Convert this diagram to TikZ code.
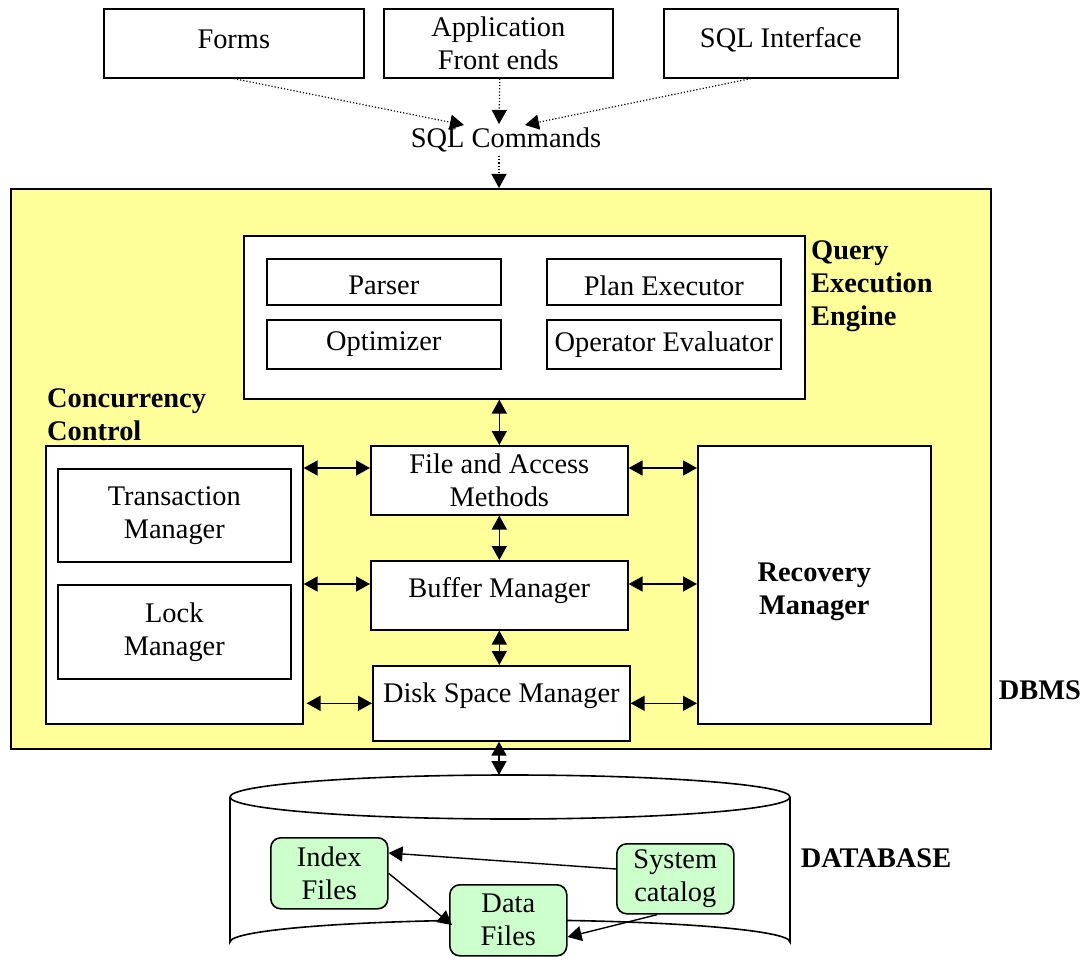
\documentclass[tikz,border=0pt]{standalone}
\usepackage{fontspec}
\setmainfont{Liberation Serif}
\usetikzlibrary{arrows.meta}
\definecolor{dbmsyellow}{HTML}{FFFF99}
\definecolor{filegreen}{HTML}{CCFFCC}
\begin{document}
\begin{tikzpicture}[x=1pt,y=-1pt,
  font=\fontsize{28.4}{33}\selectfont,
  box/.style={draw, line width=1.6pt, fill=white, align=center, inner sep=0pt, anchor=north west},
  boldlbl/.style={font=\fontsize{28.4}{33}\selectfont\bfseries, inner sep=0pt},
  dblarrow/.style={{Triangle[length=14pt,width=15pt]}-{Triangle[length=14pt,width=15pt]}, line width=1.6pt},
  dotarrow/.style={-{Triangle[length=14pt,width=15pt]}, dotted, line width=1.2pt},
  onearrow/.style={-{Triangle[length=14pt,width=15pt]}, line width=1.4pt},
  greenbox/.style={draw, line width=1.6pt, fill=filegreen, rounded corners=10pt, align=center, inner sep=0pt, anchor=north west}]
\useasboundingbox (0,0) rectangle (1088,960);
\fill[white] (0,0) rectangle (1088,960);

% top boxes
\node[box, minimum width=260pt, minimum height=69pt,
  label={[yshift=4pt]center:Forms}] (forms) at (103,8) {};
\node[box, minimum width=229pt, minimum height=69pt] (app) at (383,8) {Application\\Front ends};
\node[box, minimum width=234pt, minimum height=69pt,
  label={[yshift=3pt]center:SQL Interface}] (sqli) at (663,8) {};
\node[inner sep=0pt] (sqlc) at (506,140) {SQL Commands};
\coordinate (inL) at (464,125);
\coordinate (inM) at (499,124);
\coordinate (inR) at (525,125);

% DBMS frame
\node[draw, line width=1.6pt, fill=dbmsyellow, minimum width=980pt, minimum height=560pt, anchor=north west, inner sep=0pt] (dbms) at (10,188) {};
\node[boldlbl] (dbmslbl) at (1040,690) {DBMS};

\draw[dotarrow] (forms.south) -- (inL);
\draw[dotarrow] ([xshift=1.5pt]app.south) -- (inM);
\draw[dotarrow] ([xshift=-30pt]sqli.south) -- (inR);
\draw[dotarrow] (499,156) -- (dbms.north -| 499,0);

% Query execution engine
\node[box, minimum width=561pt, minimum height=163pt] (qee) at (243,235) {};
\node[box, minimum width=234pt, minimum height=46pt,
  label={[yshift=-4pt]center:Parser}] (parser) at (266,258) {};
\node[box, minimum width=234pt, minimum height=46pt,
  label={[yshift=-4pt]center:Plan Executor}] (planex) at (546,258) {};
\node[box, minimum width=234pt, minimum height=49pt] (optim) at (266,319) {Optimizer};
\node[box, minimum width=234pt, minimum height=49pt] (opeval) at (546,319) {Operator Evaluator};
\node[boldlbl, align=left, anchor=west] (qeelbl) at (811,286) {Query\\Execution\\Engine};

% Concurrency control
\node[boldlbl, align=left, anchor=west] (cclbl) at (47,415) {Concurrency\\Control};
\node[box, minimum width=257pt, minimum height=278pt] (conc) at (45,445) {};
\node[box, minimum width=233pt, minimum height=93pt] (trans) at (57,468) {Transaction\\Manager};
\node[box, minimum width=233pt, minimum height=94pt] (lock) at (57,584) {Lock\\Manager};

% central stack
\node[box, minimum width=257pt, minimum height=69pt] (fam) at (370,445) {File and Access\\Methods};
\node[box, minimum width=257pt, minimum height=69pt,
  label={[yshift=5pt]center:Buffer Manager}] (buf) at (370,560) {};
\node[box, minimum width=257pt, minimum height=75pt,
  label={[yshift=8pt]center:Disk Space Manager}] (disk) at (372,665) {};

% recovery
\node[box, minimum width=233pt, minimum height=278pt,
  label={[yshift=-7pt, align=center, font=\fontsize{28.4}{33}\selectfont\bfseries]center:Recovery\\Manager}] (rec) at (697,445) {};

% vertical arrows
\draw[dblarrow] (fam.north) -- (fam.north |- qee.south);
\draw[dblarrow] (fam.south) -- (buf.north);
\draw[dblarrow] (buf.south) -- (buf.south |- disk.north);

% horizontal arrows
\draw[dblarrow] (conc.east |- 0,468) -- (fam.west |- 0,468);
\draw[dblarrow] (conc.east |- 0,584) -- (buf.west |- 0,584);
\draw[dblarrow] ([xshift=3pt]conc.east |- disk.west) -- (disk.west);
\draw[dblarrow] (fam.east |- 0,468) -- (rec.west |- 0,468);
\draw[dblarrow] (buf.east |- 0,584) -- (rec.west |- 0,584);
\draw[dblarrow] (disk.east) -- (rec.west |- disk.east);

% database cylinder
\draw[line width=1.6pt, fill=white] (230,797) -- (230,942)
  arc[start angle=180, end angle=360, x radius=280, y radius=22] -- (790,797);
\draw[line width=1.6pt, fill=white] (510,797) ellipse [x radius=280, y radius=22];
\coordinate (dbtop) at (499,775);
\draw[dblarrow] (disk.south -| 499,0) -- (dbtop);
\node[boldlbl] (dblbl) at (876,858) {DATABASE};

\node[greenbox, minimum width=117pt, minimum height=71pt] (idx) at (270,837) {Index\\Files};
\node[greenbox, minimum width=117pt, minimum height=71pt] (data) at (449,884) {Data\\Files};
\node[greenbox, minimum width=117pt, minimum height=70pt] (sys) at (616,843) {System\\catalog};

\draw[onearrow] (sys.west |- 0,869) -- (idx.east |- 0,853);
\draw[onearrow] (idx.east) -- ([xshift=3pt]data.west |- 0,925);
\draw[onearrow] ([xshift=-18pt]sys.south) -- (data.east |- 0,937);
\end{tikzpicture}
\end{document}
